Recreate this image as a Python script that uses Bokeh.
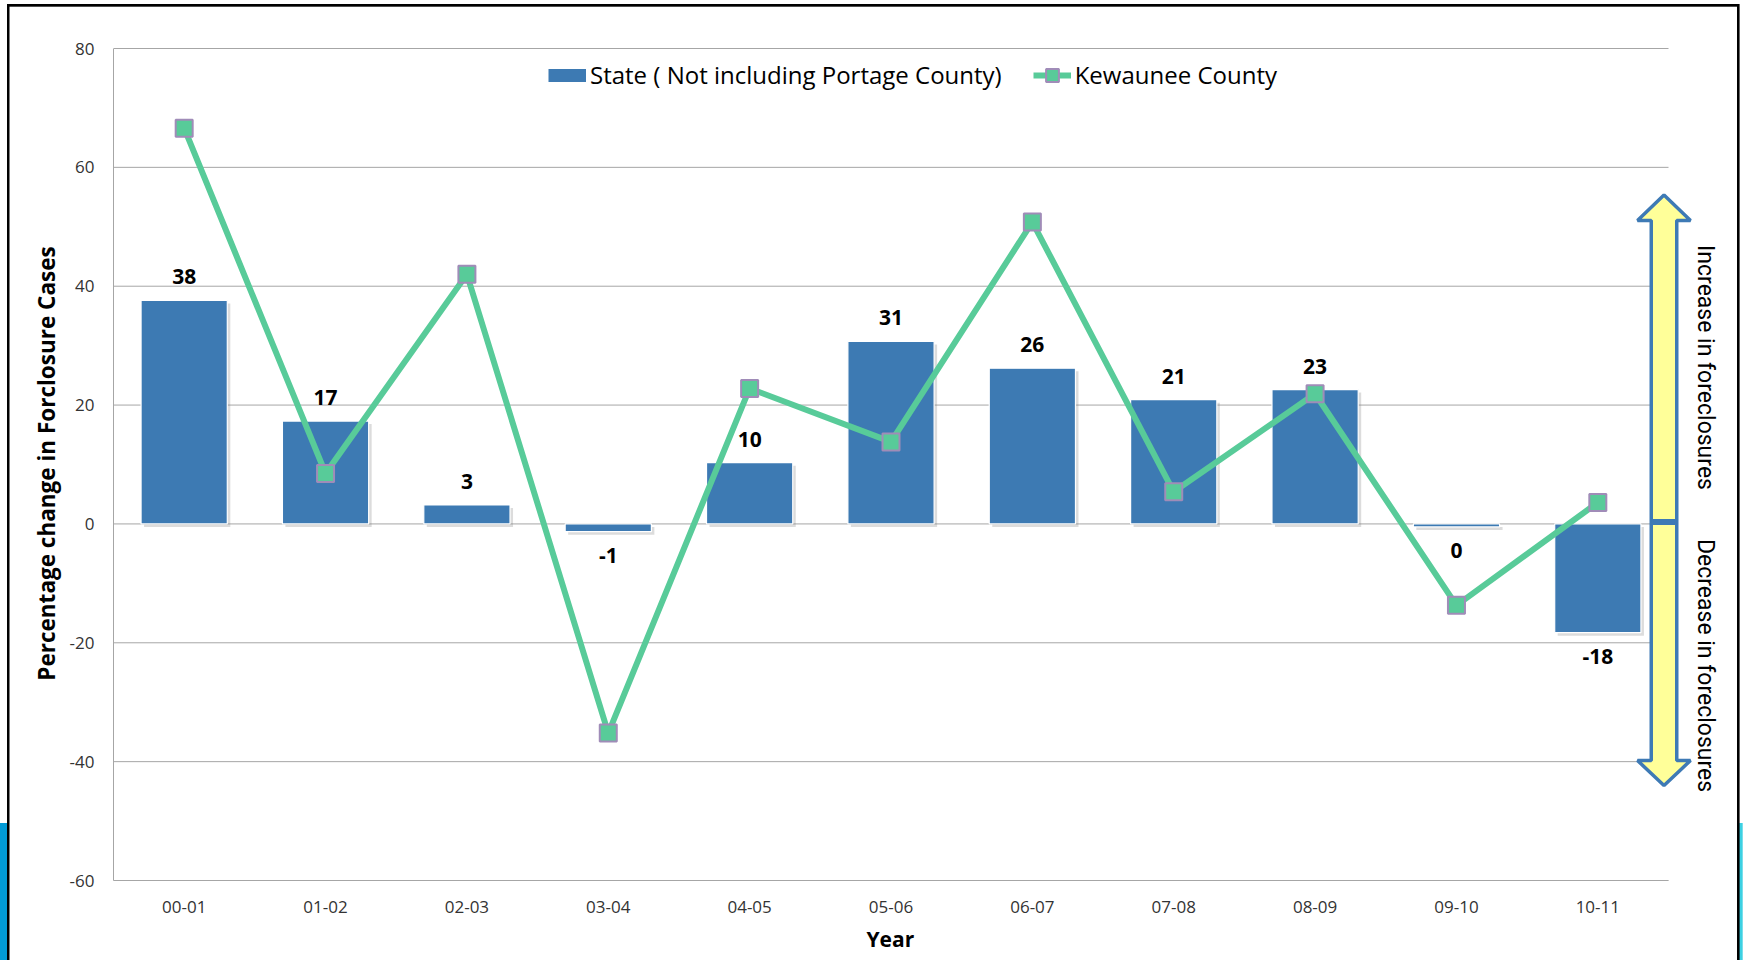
import math
from bokeh.plotting import figure
from bokeh.models import (Range1d, FixedTicker, Legend, LegendItem, Title,
                          PolyAnnotation, Label, ColumnDataSource)
from bokeh.core.properties import value
from bokeh.embed import file_html
from bokeh.resources import INLINE

# ---------------- data ----------------
years = ["00-01", "01-02", "02-03", "03-04", "04-05", "05-06",
         "06-07", "07-08", "08-09", "09-10", "10-11"]
state = [37.6, 17.3, 3.2, -1.3, 10.3, 30.7, 26.2, 20.9, 22.6, -0.5, -18.3]
kewaunee = [66.6, 8.5, 42.0, -35.2, 22.8, 13.8, 50.8, 5.4, 21.9, -13.7, 3.6]
y_ticks = [-60, -40, -20, 0, 20, 40, 60, 80]
state_name = "State ( Not including Portage County)"
county_name = "Kewaunee County"
y_title = "Percentage change in Forclosure Cases"
x_title = "Year"
up_text = "Increase in foreclosures"
down_text = "Decrease in foreclosures"

# ---------------- style ----------------
BLUE = "#3D7AB3"
GREEN = "#58CB99"
MARK_EDGE = "#A08CB8"
GRID = "#A6A6A6"
ARROW_FILL = "#FFFF99"
ARROW_LINE = "#3E7AB5"
FONT = "Open Sans"

W, H = 1743, 960
F_L, F_R, F_T, F_B = 113, 1743, 46, 880     # frame box (page px)
PLOT_R = 1668                                # right end of the chart area
Y80 = 48                                     # page y of the top tick
n = len(years)
Y_MIN, Y_MAX = y_ticks[0], y_ticks[-1]
SX = (PLOT_R - F_L) / n
SY = (F_B - Y80) / (Y_MAX - Y_MIN)


def xd(px):
    return (px - F_L) / SX


def yd(py):
    return Y_MAX - (py - Y80) / SY


xs = [i + 0.5 for i in range(n)]

src = ColumnDataSource(dict(
    x=xs,
    state=state,
    kew=kewaunee,
    sh_x=[x + 3 / SX for x in xs],
    sh_top=[max(v, 0) - 3 / SY for v in state],
    sh_bot=[min(v, 0) - 3 / SY for v in state],
    lab=[str(int(round(v))) for v in state],
    lab_y=[v + 23.5 / SY if v >= 0 else v - 24 / SY for v in state],
))

# slide frame (black border + coloured edge strips) painted behind the canvas
frame_css = ", ".join([
    "linear-gradient(#000,#000) 7px 4px / 2.5px 956px no-repeat",
    "linear-gradient(#000,#000) 7px 4px / 1732px 2.7px no-repeat",
    "linear-gradient(#019AD6,#019AD6) 0px 823px / 7px 137px no-repeat",
    "linear-gradient(#000,#000) 1736.7px 4px / 2.6px 956px no-repeat",
    "linear-gradient(#3DD1E3,#3DD1E3) 1739.3px 823px / 3.7px 137px no-repeat",
    "#ffffff",
])

p = figure(x_range=Range1d(0, (F_R - F_L) / SX), y_range=Range1d(Y_MIN, yd(F_T)),
           width=W, height=H, output_backend="svg", toolbar_location=None,
           min_border_left=F_L, min_border_right=W - F_R,
           min_border_top=F_T, min_border_bottom=H - F_B,
           background_fill_color=None, border_fill_color=None,
           styles={"background": frame_css})
p.outline_line_color = None
p.xgrid.visible = False
p.ygrid.visible = False

for ax in (p.xaxis[0], p.yaxis[0]):
    ax.major_tick_line_color = None
    ax.minor_tick_line_color = None
    ax.major_tick_out = 0
    ax.major_tick_in = 0
    ax.minor_tick_out = 0
    ax.minor_tick_in = 0
    ax.axis_line_color = GRID
    ax.major_label_text_font = FONT
    ax.major_label_text_font_size = "17px"
    ax.major_label_text_color = "#333333"
    ax.axis_label_text_font = FONT
    ax.axis_label_text_font_style = "bold"
    ax.axis_label_text_color = "black"

p.yaxis.ticker = FixedTicker(ticks=y_ticks)
p.yaxis.major_label_overrides = {t: str(t) for t in y_ticks}
p.yaxis.bounds = (Y_MIN, Y_MAX)
p.yaxis.major_label_standoff = 19
p.yaxis.axis_label = y_title
p.yaxis.axis_label_text_font_size = "22.5px"
p.yaxis.axis_label_standoff = 5

p.xaxis.ticker = FixedTicker(ticks=xs)
p.xaxis.major_label_overrides = {x: lab for x, lab in zip(xs, years)}
p.xaxis.bounds = (0, n)
p.xaxis.major_label_standoff = 20

# x-axis title, centred under the chart area (not under the whole frame)
p.add_layout(Title(text=x_title, align="left",
                   offset=(F_L + PLOT_R) / 2 - F_L - 24.5,
                   standoff=14, text_font=FONT, text_font_style="bold",
                   text_font_size="21px", text_color="black"), "below")

# horizontal gridlines across the chart area only
p.segment(x0=[0] * len(y_ticks), x1=[n] * len(y_ticks), y0=y_ticks, y1=y_ticks,
          line_color=GRID, line_width=1)

# bar shadows
p.vbar(x="sh_x", top="sh_top", bottom="sh_bot", width=0.61, source=src,
       fill_color="#808080", fill_alpha=0.28, line_color=None)
# bars
bars = p.vbar(x="x", top="state", bottom=0, width=0.61, source=src,
              fill_color=BLUE, line_color="white", line_width=1.2)
# bar value labels
p.text(x="x", y="lab_y", text="lab", source=src,
       text_font=value(FONT), text_font_style="bold", text_font_size="21px",
       text_align="center", text_baseline="middle", text_color="black")
# county line
line_r = p.line(x="x", y="kew", source=src, line_color=GREEN, line_width=6)
scat_r = p.scatter(x="x", y="kew", source=src, marker="square", size=17,
                   fill_color=GREEN, line_color=MARK_EDGE, line_width=2)

# legend proxy (thick line gives a flat rectangle swatch); NaN keeps it off the chart
proxy = p.line(x=[float("nan")], y=[float("nan")], line_color=BLUE, line_width=13)

legend = Legend(items=[LegendItem(label=state_name, renderers=[proxy]),
                       LegendItem(label=county_name, renderers=[line_r, scat_r])],
                orientation="horizontal", location=(435, 789),
                glyph_width=38, glyph_height=32, label_standoff=4, spacing=31,
                padding=0, margin=0, border_line_color=None,
                background_fill_alpha=0, label_text_font=FONT,
                label_text_font_size="24px", label_text_color="black")
p.add_layout(legend)

# ---------------- decorations ----------------
cx = 1663.5
tip_t, base_t = 194.5, 220.0
base_b, tip_b = 760.0, 785.0
hh, sh = 26.5, 12.75
arrow_px = [(cx, tip_t), (cx + hh, base_t), (cx + sh, base_t), (cx + sh, base_b),
            (cx + hh, base_b), (cx, tip_b), (cx - hh, base_b), (cx - sh, base_b),
            (cx - sh, base_t), (cx - hh, base_t)]
p.add_layout(PolyAnnotation(xs=[xd(a) for a, b in arrow_px], ys=[yd(b) for a, b in arrow_px],
                            fill_color=ARROW_FILL, fill_alpha=1.0,
                            line_color=ARROW_LINE, line_alpha=1.0, line_width=3.5))
div_px = [(cx - sh, 518.5), (cx + sh, 518.5), (cx + sh, 524.5), (cx - sh, 524.5)]
p.add_layout(PolyAnnotation(xs=[xd(a) for a, b in div_px], ys=[yd(b) for a, b in div_px],
                            fill_color=ARROW_LINE, fill_alpha=1.0, line_color=None))

for txt, cy in ((up_text, 367), (down_text, 665)):
    p.add_layout(Label(x=xd(1704.5), y=yd(cy), text=txt, angle=-math.pi / 2,
                       text_align="center", text_baseline="alphabetic",
                       text_font="Roboto", text_font_size="23px",
                       text_color="black"))

open("out.html", "w").write(file_html(p, INLINE))
